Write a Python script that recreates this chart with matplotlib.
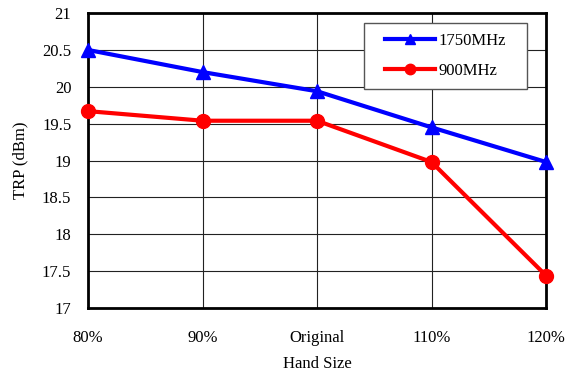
import matplotlib
matplotlib.use("Agg")
import matplotlib.pyplot as plt
from matplotlib.patches import Rectangle

categories = ["80%", "90%", "Original", "110%", "120%"]
trp_1750 = [20.50, 20.20, 19.94, 19.45, 18.98]
trp_900 = [19.67, 19.54, 19.54, 18.98, 17.44]
y_ticks = [17, 17.5, 18, 18.5, 19, 19.5, 20, 20.5, 21]
y_labels = ["17", "17.5", "18", "18.5", "19", "19.5", "20", "20.5", "21"]

plt.rcParams["font.family"] = ["Liberation Serif", "DejaVu Serif"]
fs = 12

fig = plt.figure(figsize=(5.69, 3.74), dpi=100)
ax = fig.add_axes([0.1547, 0.1765, 0.8049, 0.7885])

x = list(range(len(categories)))
ax.plot(x, trp_1750, color="#0000ff", lw=3, marker="^", ms=10, label="1750MHz", clip_on=False, zorder=3)
ax.plot(x, trp_900, color="#ff0000", lw=3, marker="o", ms=10, label="900MHz", clip_on=False, zorder=3)

ax.set_xlim(0, 4)
ax.set_ylim(17, 21)
ax.set_xticks(x)
ax.set_xticklabels(categories)
ax.set_yticks(y_ticks)
ax.set_yticklabels(y_labels)
ax.tick_params(length=0, labelsize=fs)
ax.tick_params(axis="x", pad=16)
ax.tick_params(axis="y", pad=12)
ax.grid(True, color="#222222", lw=0.8)
ax.set_axisbelow(True)
for s in ax.spines.values():
    s.set_linewidth(2)
    s.set_color("black")

ax.set_xlabel("Hand Size", fontsize=fs, labelpad=7)
ax.set_ylabel("TRP (dBm)", fontsize=fs, labelpad=10)

# legend box drawn separately so it can be wider than its content
box = Rectangle((0.6026, 0.7424), 0.3559, 0.2236, transform=ax.transAxes,
                facecolor="white", edgecolor="#555555", lw=1, zorder=4)
ax.add_patch(box)
leg = ax.legend(loc="center", bbox_to_anchor=(0.7806, 0.854), borderaxespad=0,
                fontsize=fs, frameon=False, handlelength=3.0, borderpad=0.3,
                labelspacing=0.85, handletextpad=0.2, markerscale=0.75)
leg.set_zorder(5)

fig.savefig("out.png", dpi=100)
